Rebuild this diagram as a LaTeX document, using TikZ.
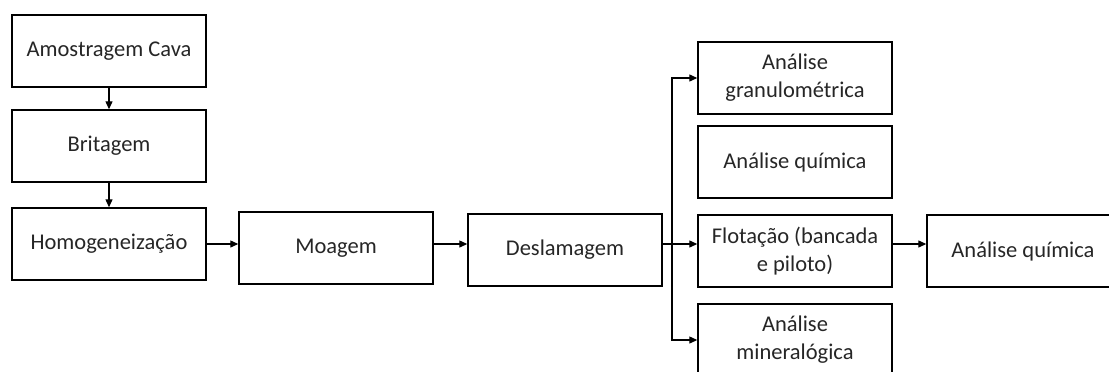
\documentclass[tikz,border=0pt]{standalone}
\usepackage{fontspec}
\setmainfont{Carlito}
\usetikzlibrary{arrows.meta}
\begin{document}
\begin{tikzpicture}[x=1pt,y=-1pt,
  box/.style={draw, line width=1.4pt, minimum width=194pt, minimum height=72pt,
    align=center, inner sep=0pt, text=black!85,
    font=\fontsize{22.5}{28}\selectfont},
  arr/.style={-{Triangle[length=8pt,width=7pt]}, line width=1.2pt}]
\useasboundingbox (0,0) rectangle (1109,372);
\clip (0,0) rectangle (1109,372);
\node[box] (a1) at (109,51) {Amostragem Cava};
\node[box] (a2) at (109,146) {Britagem};
\node[box] (a3) at (109,244) {Homogeneização};
\node[box] (m) at (336,248) {Moagem};
\node[box] (d) at (565,250) {Deslamagem};
\node[box] (rA) at (795,78) {Análise\\granulométrica};
\node[box] (rB) at (795,162) {Análise química};
\node[box] (rC) at (795,251) {Flotação (bancada\\e piloto)};
\node[box] (rD) at (795,340) {Análise\\mineralógica};
\node[box, minimum width=192pt] (f) at (1023,251) {Análise química};
\coordinate (j) at (672,244);
\draw[arr] (a1) -- (a2);
\draw[arr] (a2) -- (a3);
\draw[arr] (a3.east) -- (a3.east -| m.west);
\draw[arr] (m.east |- a3.east) -- (d.west |- a3.east);
\draw[line width=1.2pt] (d.east |- j) -- (j);
\draw[arr] (j) |- (rA.west);
\draw[arr] (j) -- (rC.west |- j);
\draw[arr] (j) |- (rD.west);
\draw[arr] (rC.east |- j) -- (f.west |- j);
\end{tikzpicture}
\end{document}
